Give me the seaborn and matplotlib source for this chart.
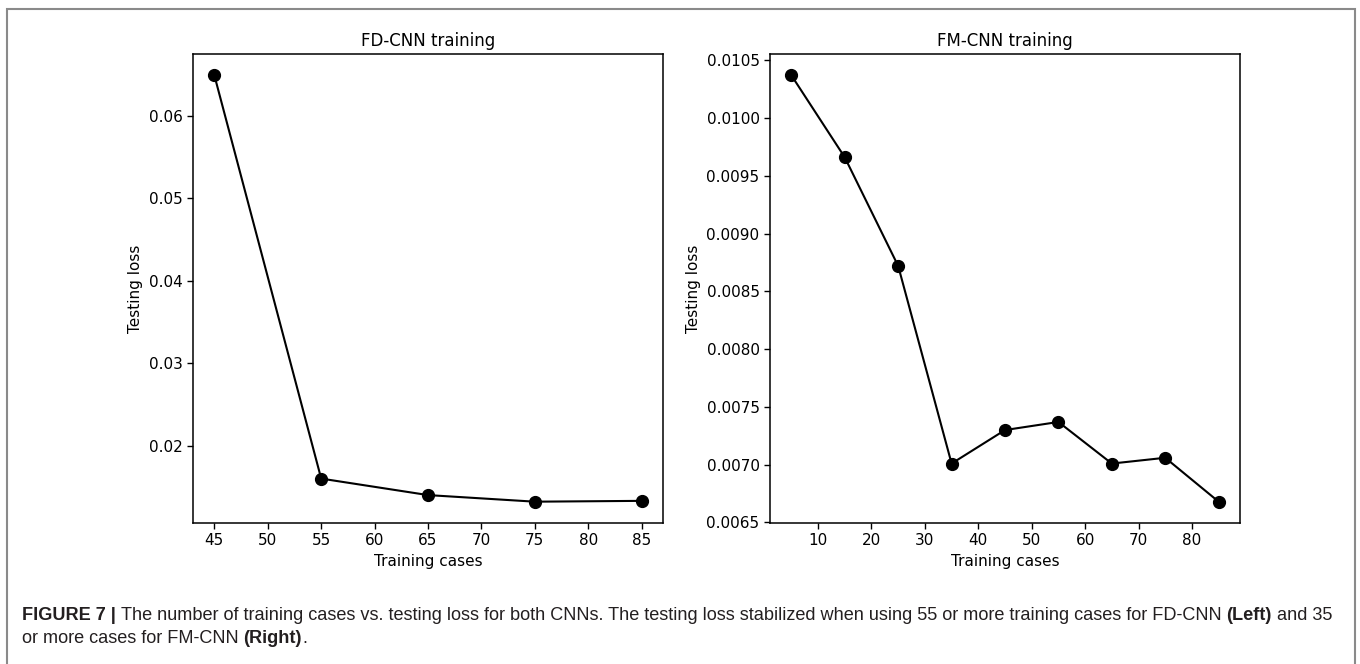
import matplotlib
matplotlib.use("Agg")
import matplotlib.pyplot as plt
import matplotlib.patches as mpatches
import seaborn as sns
import pandas as pd
from matplotlib.ticker import FormatStrFormatter

# Testing loss as a function of the number of training cases
fd_cases = [45, 55, 65, 75, 85]
fd_loss = [0.0649, 0.0160, 0.0140, 0.0132, 0.0133]

fm_cases = [5, 15, 25, 35, 45, 55, 65, 75, 85]
fm_loss = [0.01037, 0.00966, 0.00872, 0.00701, 0.00730, 0.00737, 0.00701, 0.00706, 0.00668]

fd_xticks = [45, 50, 55, 60, 65, 70, 75, 80, 85]
fd_yticks = [0.02, 0.03, 0.04, 0.05, 0.06]
fm_xticks = [10, 20, 30, 40, 50, 60, 70, 80]
fm_yticks = [0.0065, 0.0070, 0.0075, 0.0080, 0.0085, 0.0090, 0.0095, 0.0100, 0.0105]

titles = ["FD-CNN training", "FM-CNN training"]
xlabel = "Training cases"
ylabel = "Testing loss"

caption_parts = [
    ("FIGURE 7 | ", "bold"),
    ("The number of training cases vs. testing loss for both CNNs. The testing loss "
     "stabilized when using 55 or more training cases for FD-CNN ", "normal"),
    ("(Left)", "bold"),
    (" and 35", "normal"),
]
caption_line2 = [
    ("or more cases for FM-CNN ", "normal"),
    ("(Right)", "bold"),
    (".", "normal"),
]

sns.set_style("ticks")
plt.rcParams["font.family"] = ["DejaVu Sans"]
plt.rcParams["text.color"] = "black"
plt.rcParams["axes.labelcolor"] = "black"
plt.rcParams["xtick.color"] = "black"
plt.rcParams["ytick.color"] = "black"

W, H = 1360, 664
fig = plt.figure(figsize=(W / 100, H / 100), dpi=100)

ax_l = fig.add_axes([193 / W, 1 - 523 / H, 470 / W, 469 / H])
ax_r = fig.add_axes([770 / W, 1 - 523 / H, 470 / W, 469 / H])

panels = [
    (ax_l, fd_cases, fd_loss, fd_xticks, fd_yticks, "%.2f"),
    (ax_r, fm_cases, fm_loss, fm_xticks, fm_yticks, "%.4f"),
]

for (ax, xs, ys, xt, yt, fmt), title in zip(panels, titles):
    df = pd.DataFrame({"cases": xs, "loss": ys})
    sns.lineplot(data=df, x="cases", y="loss", ax=ax, color="black",
                 marker="o", markersize=8.5, markeredgecolor="black",
                 markeredgewidth=1, linewidth=1.5)
    ax.set_xticks(xt)
    ax.set_yticks(yt)
    ax.yaxis.set_major_formatter(FormatStrFormatter(fmt))
    ax.margins(x=0.05, y=0.05)
    ax.set_title(title, fontsize=12, pad=6, color="black")
    ax.set_xlabel(xlabel, fontsize=11)
    ax.set_ylabel(ylabel, fontsize=11)
    ax.tick_params(axis="both", labelsize=11, length=4, width=1,
                   color="black", labelcolor="black", direction="out")
    for sp in ax.spines.values():
        sp.set_visible(True)
        sp.set_color("black")
        sp.set_linewidth(1.1)
    ax.grid(False)

# Frame around the figure (open at the bottom edge)
frame = mpatches.Rectangle((7 / W, -0.05), (1355 - 7) / W, 1.05 - 9 / H,
                           transform=fig.transFigure, fill=False,
                           edgecolor="#8a8a8a", linewidth=1.5, clip_on=False)
fig.patches.append(frame)

# Caption with mixed bold / regular runs
cap_font = ["Liberation Sans", "DejaVu Sans"]
cap_color = "#231f20"
cap_size = 13.05


def place_runs(parts, x0, y0):
    renderer = fig.canvas.get_renderer()
    x = x0
    for txt, weight in parts:
        t = fig.text(x / W, 1 - y0 / H, txt, fontsize=cap_size, fontweight=weight,
                     family=cap_font, color=cap_color, va="baseline", ha="left")
        bb = t.get_window_extent(renderer=renderer)
        x = bb.x1


place_runs(caption_parts, 22, 620)
place_runs(caption_line2, 22, 643)

fig.savefig("out.png", dpi=100, facecolor="white")
